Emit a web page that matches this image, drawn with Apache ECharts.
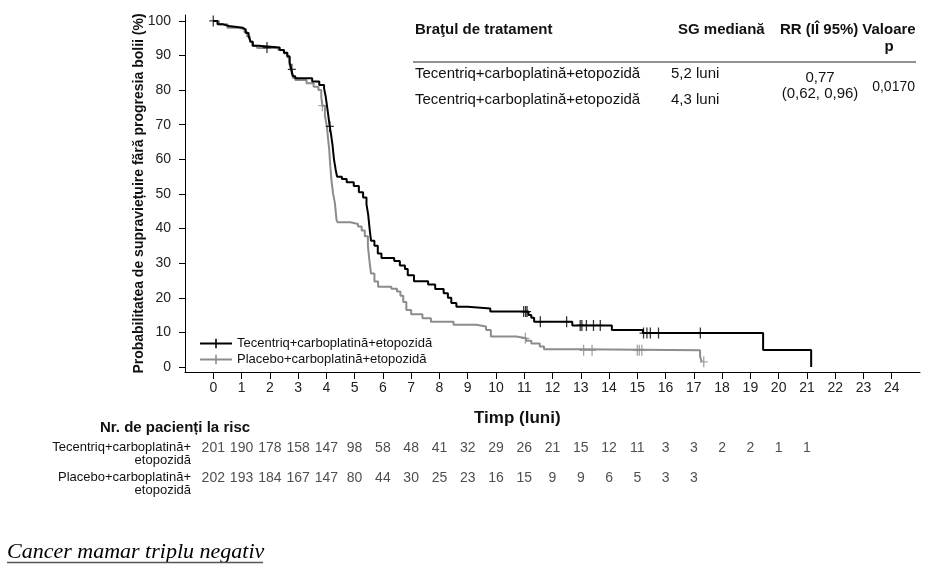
<!DOCTYPE html>
<html>
<head>
<meta charset="utf-8">
<script src="https://cdn.jsdelivr.net/npm/echarts@6/dist/echarts.min.js"></script>
<style>
  html, body { margin: 0; padding: 0; background: #fff; }
  #chart { width: 949px; height: 570px; }
</style>
</head>
<body>
<div id="chart"></div>
<script>
// Kaplan-Meier, PFS
const monthTicks = [0, 1, 2, 3, 4, 5, 6, 7, 8, 9, 10, 11, 12, 13, 14, 15, 16, 17, 18, 19, 20, 21, 22, 23, 24];
const pctTicks = [0, 10, 20, 30, 40, 50, 60, 70, 80, 90, 100];

const armNames = ['Tecentriq+carboplatină+etopozidă', 'Placebo+carboplatină+etopozidă'];

// step points: time (months), survival (%) after the event
const tecTimes = [0, 0.15, 0.35, 0.55, 1.05, 1.15, 1.25, 1.32, 1.4, 1.6, 2.35, 2.5, 2.62, 2.7, 2.76, 2.82, 2.9, 3.5, 3.75, 3.92,
  3.98, 4.03, 4.08, 4.12, 4.17, 4.22, 4.27, 4.33, 4.38, 4.55, 4.72, 4.97, 5.15, 5.3, 5.42, 5.48, 5.53, 5.58, 5.7, 5.82,
  5.95, 6.4, 6.6, 6.78, 6.88, 7.1, 7.6, 7.85, 8.15, 8.3, 8.42, 8.6, 9.0, 9.8, 11.15, 11.25, 11.35, 12.7, 14.1, 15.2, 19.45, 21.15];
const tecSurv = [100, 99, 98.5, 98, 97.5, 96.5, 95.5, 94, 92.8, 92.3, 91.6, 90.8, 89.8, 88, 86, 84, 83.4, 82.5, 81.5, 80.5,
  78, 75, 72, 69.5, 67, 64, 60, 57, 55, 54.3, 53.4, 52.3, 50.5, 49, 47, 44, 40, 36.5, 35, 32.8,
  31.5, 30.6, 29.3, 28.3, 26.5, 24.8, 23.8, 22.5, 21.3, 20, 18.5, 17.4, 16.9, 16, 15, 14.2, 13.1, 12, 10.7, 9.8, 4.9, 0];

const plaTimes = [0, 0.2, 0.5, 0.9, 1.1, 1.2, 1.3, 1.38, 1.55, 2.3, 2.5, 2.62, 2.7, 2.76, 2.82, 2.9, 3.3, 3.55, 3.72, 3.82,
  3.86, 3.95, 4.02, 4.06, 4.1, 4.14, 4.18, 4.24, 4.3, 4.36, 4.4, 4.85, 5.12, 5.25, 5.36, 5.47, 5.52, 5.58, 5.7, 5.83,
  6.3, 6.5, 6.62, 6.72, 6.83, 7.0, 7.4, 7.7, 8.5, 9.3, 9.65, 9.82, 10.72, 11.07, 11.25, 11.55, 11.7, 12.95, 17.22, 17.28];
const plaSurv = [100, 99, 98, 97.6, 96.8, 95.5, 94, 92.8, 92.2, 91.6, 90.6, 89.5, 87.5, 85.5, 83.5, 82.9, 82, 81, 80, 78,
  75.5, 72.5, 69.5, 66, 63, 58, 54, 50, 47.5, 42.5, 41.8, 41.3, 40.6, 39.4, 37.8, 35, 31, 27, 24.7, 23.2,
  22.6, 21.8, 20.6, 18.8, 16.5, 15.2, 14.1, 13.1, 12.2, 11.7, 10.7, 8.8, 8.3, 7.6, 6.8, 5.9, 5.1, 4.8, 3, 1.5];

// censored patients (+)
const tecCensorT = [0, 1.9, 2.78, 4.12, 10.98, 11.05, 11.1, 11.57, 12.5, 12.98, 13.04, 13.2, 13.45, 13.69, 15.22, 15.34, 15.46, 15.75, 17.23];
const tecCensorS = [100, 92.3, 86, 69.5, 16, 16, 16, 13.1, 13.1, 12, 12, 12, 12, 12, 9.8, 9.8, 9.8, 9.8, 9.8];
const plaCensorT = [3.86, 11.04, 13.1, 13.4, 15.0, 15.07, 15.16, 17.35];
const plaCensorS = [75.5, 8.3, 4.8, 4.8, 4.8, 4.8, 4.8, 1.5];

// numbers at risk, one per month from 0
const riskTec = [201, 190, 178, 158, 147, 98, 58, 48, 41, 32, 29, 26, 21, 15, 12, 11, 3, 3, 2, 2, 1, 1];
const riskPla = [202, 193, 184, 167, 147, 80, 44, 30, 25, 23, 16, 15, 9, 9, 6, 5, 3, 3];
const riskRowLabels = ['Tecentriq+carboplatină+\netopozidă', 'Placebo+carboplatină+\netopozidă'];

// summary table in the top right
const tableHeader = ['Braţul de tratament', 'SG mediană', 'RR (IÎ 95%)', 'Valoare\np'];
const tableArms = ['Tecentriq+carboplatină+etopozidă', 'Tecentriq+carboplatină+etopozidă'];
const tableMedians = ['5,2 luni', '4,3 luni'];
const tableHr = '0,77\n(0,62, 0,96)';
const tablePval = '0,0170';

const FONT = '"Liberation Sans", Arial, sans-serif';
const BLACK = '#000000';
const GREY = '#8c8c8c';
const PLUS = 'path://M4.2,0h1.6v14h-1.6zM0,6.2h10v1.6h-10z';

const zip = (a, b) => a.map((v, i) => [v, b[i]]);

const chart = echarts.init(document.getElementById('chart'), null, { renderer: 'canvas' });

function txt(text, x, y, opts) {
  return {
    type: 'text',
    silent: true,
    style: Object.assign({
      text: text, x: x, y: y,
      fontFamily: FONT, fontSize: 15, fill: '#111',
      textVerticalAlign: 'middle'
    }, opts || {})
  };
}

const graphics = [
  // table
  txt(tableHeader[0], 415, 30, { fontWeight: 'bold' }),
  txt(tableHeader[1], 678, 30, { fontWeight: 'bold' }),
  txt(tableHeader[2], 780, 30, { fontWeight: 'bold' }),
  txt(tableHeader[3], 889, 38, { fontWeight: 'bold', textAlign: 'center', lineHeight: 17 }),
  { type: 'line', silent: true, shape: { x1: 413, y1: 62, x2: 916, y2: 62 }, style: { stroke: '#222', lineWidth: 1 } },
  txt(tableArms[0], 415, 74),
  txt(tableArms[1], 415, 100),
  txt(tableMedians[0], 671, 74),
  txt(tableMedians[1], 671, 100),
  txt(tableHr, 820, 86, { textAlign: 'center', lineHeight: 16 }),
  txt(tablePval, 915, 87, { textAlign: 'right', fontSize: 14 }),
  // axis title
  txt('Timp (luni)', 474, 418, { fontWeight: 'bold', fontSize: 17 }),
  // risk table
  txt('Nr. de pacienți la risc', 100, 428, { fontWeight: 'bold' }),
  txt(riskRowLabels[0], 191, 454, { textAlign: 'right', fontSize: 13, lineHeight: 13 }),
  txt(riskRowLabels[1], 191, 484, { textAlign: 'right', fontSize: 13, lineHeight: 13 }),
  // footer
  txt('Cancer mamar triplu negativ', 7, 552, { fontFamily: '"Liberation Serif", "Times New Roman", serif', fontStyle: 'italic', fontSize: 22, fill: '#000' }),
  { type: 'line', silent: true, shape: { x1: 7, y1: 562.5, x2: 263, y2: 562.5 }, style: { stroke: '#555', lineWidth: 1.5 } }
];

const riskData = riskTec.map((n, i) => [i, 0, n]).concat(riskPla.map((n, i) => [i, 1, n]));

chart.setOption({
  animation: false,
  backgroundColor: '#ffffff',
  textStyle: { fontFamily: FONT },
  grid: [
    { left: 185, top: 15, right: 29, bottom: 198 },
    { left: 185, top: 433, right: 29, height: 60 }
  ],
  legend: {
    data: armNames,
    orient: 'vertical',
    left: 194,
    top: 332,
    itemWidth: 32,
    itemHeight: 12,
    itemGap: 3,
    textStyle: { fontFamily: FONT, fontSize: 13, color: '#111' }
  },
  xAxis: [
    {
      type: 'value', gridIndex: 0, min: -1, max: 25,
      axisLine: { onZero: false, lineStyle: { color: '#000', width: 1 } },
      axisTick: { show: true, length: 7, customValues: monthTicks, lineStyle: { color: '#000' } },
      axisLabel: { customValues: monthTicks, fontSize: 14, color: '#222', margin: 9, fontFamily: FONT },
      splitLine: { show: false }
    },
    { type: 'value', gridIndex: 1, min: -1, max: 25, show: false }
  ],
  yAxis: [
    {
      type: 'value', gridIndex: 0, min: -1.45, max: 101.7,
      name: 'Probabilitatea de supraviețuire fără progresia bolii (%)',
      nameLocation: 'middle', nameGap: 39, nameMoveOverlap: false,
      nameTextStyle: { fontFamily: FONT, fontWeight: 'bold', fontSize: 14, color: '#111' },
      axisLine: { show: true, onZero: false, lineStyle: { color: '#000', width: 1 } },
      axisTick: { show: true, length: 6, customValues: pctTicks, lineStyle: { color: '#000' } },
      axisLabel: { customValues: pctTicks, fontSize: 14, color: '#222', margin: 14, fontFamily: FONT },
      splitLine: { show: false }
    },
    { type: 'category', gridIndex: 1, data: ['tec', 'pla'], inverse: true, show: false }
  ],
  series: [
    {
      name: armNames[0], type: 'line', step: 'end',
      data: zip(tecTimes, tecSurv),
      symbol: PLUS, symbolSize: [10, 12], showSymbol: false,
      lineStyle: { color: BLACK, width: 2 }, itemStyle: { color: BLACK },
      z: 3
    },
    {
      name: armNames[1], type: 'line', step: 'end',
      data: zip(plaTimes, plaSurv),
      symbol: PLUS, symbolSize: [10, 12], showSymbol: false,
      lineStyle: { color: GREY, width: 2 }, itemStyle: { color: GREY },
      z: 2
    },
    {
      name: 'tecCensor', type: 'scatter',
      data: zip(tecCensorT, tecCensorS),
      symbol: PLUS, symbolSize: [8, 11],
      itemStyle: { color: BLACK }, z: 4
    },
    {
      name: 'plaCensor', type: 'scatter',
      data: zip(plaCensorT, plaCensorS),
      symbol: PLUS, symbolSize: [8, 11],
      itemStyle: { color: GREY }, z: 2
    },
    {
      name: 'risk', type: 'scatter', xAxisIndex: 1, yAxisIndex: 1,
      data: riskData, symbolSize: 1,
      itemStyle: { color: 'rgba(0,0,0,0)' },
      label: {
        show: true, position: 'inside',
        formatter: p => String(p.value[2]),
        fontFamily: FONT, fontSize: 14, color: '#222'
      }
    }
  ],
  graphic: graphics
});
</script>
</body>
</html>
